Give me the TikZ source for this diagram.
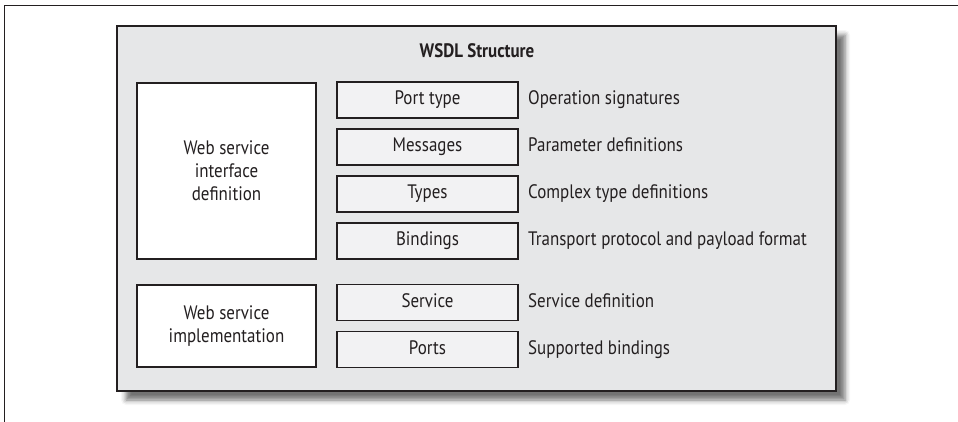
\documentclass[tikz,border=0pt]{standalone}
\usepackage{fontspec}
\setmainfont{PT Sans}[FakeStretch=0.87]
\usepackage{xcolor}
\usepackage{tikz}
\usetikzlibrary{shadows.blur}

\definecolor{ink}{HTML}{231F20}
\definecolor{panel}{HTML}{E6E7E8}
\definecolor{pale}{HTML}{F2F2F3}

\begin{document}
\begin{tikzpicture}[x=1pt,y=-1pt,font=\fontsize{19.5}{23}\selectfont,text=ink]
        \tikzset{part/.style={draw=ink, line width=1.6pt, fill=pale, minimum width=181pt, minimum height=36pt, text height=13.5pt, text depth=4pt, inner sep=0pt},
                 block/.style={draw=ink, line width=1.6pt, fill=white, minimum width=179pt, align=center, inner sep=0pt},
                 note/.style={anchor=west, text height=13.5pt, text depth=4pt, inner sep=0pt}}
        \useasboundingbox (0,0) rectangle (958,422);

	%---FRAME---
        \draw[ink, line width=0.9pt] (958,5) -- (4,5) -- (4,422);

	%---NODES---
        \node[draw=ink, line width=2.2pt, fill=panel, minimum width=719pt, minimum height=365pt,
              blur shadow={shadow xshift=9pt, shadow yshift=-9pt, shadow blur radius=5pt, shadow opacity=55}] (0) at (476.5,208.5) {};
        \node[font=\fontsize{19.5}{23}\selectfont\bfseries] (t) at (477,51) {WSDL Structure};

        \node[block, minimum height=176pt] (a) at (226.5,171) {Web service\\interface\\definition};
        \node[block, minimum height=82pt] (b) at (226.5,326) {Web service\\implementation};

        \node[part] (1) at (427.5,100) {Port type};
        \node[part] (2) at (427.5,147) {Messages};
        \node[part] (3) at (427.5,194) {Types};
        \node[part] (4) at (427.5,241) {Bindings};
        \node[part] (5) at (427.5,302.5) {Service};
        \node[part] (6) at (427.5,349.5) {Ports};

        \node[note] (1n) at (528,100) {Operation signatures};
        \node[note] (2n) at (528,147) {Parameter definitions};
        \node[note] (3n) at (528,194) {Complex type definitions};
        \node[note] (4n) at (528,241) {Transport protocol and payload format};
        \node[note] (5n) at (528,302.5) {Service definition};
        \node[note] (6n) at (528,349.5) {Supported bindings};
\end{tikzpicture}
\end{document}
